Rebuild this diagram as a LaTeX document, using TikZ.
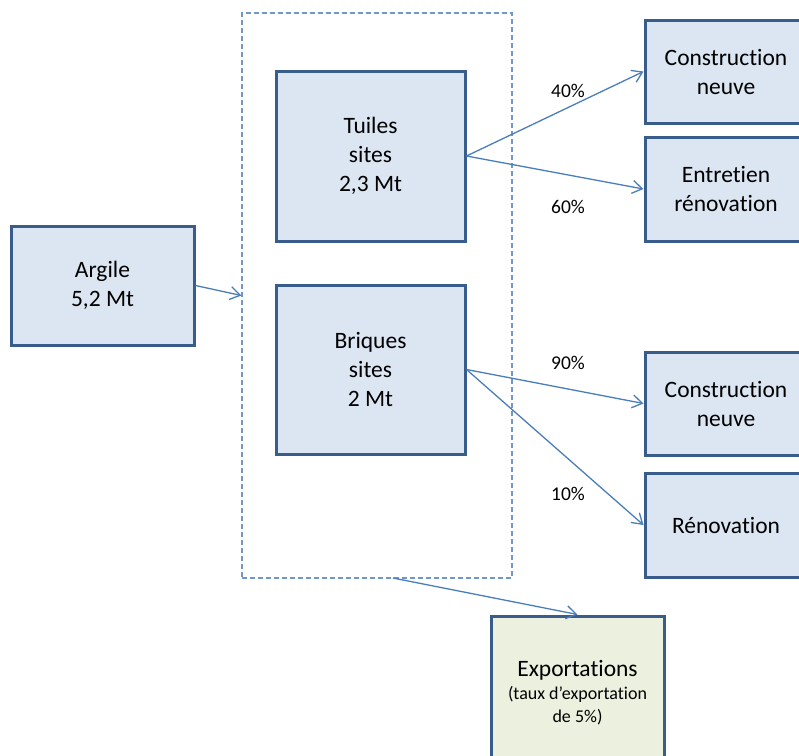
\documentclass[tikz,border=0pt]{standalone}
\usepackage{fontspec}
\setmainfont[Ligatures=NoCommon]{Carlito}
\usetikzlibrary{arrows.meta}
\definecolor{boxline}{HTML}{385D8A}
\definecolor{boxfill}{HTML}{DCE6F2}
\definecolor{exfill}{HTML}{EBF1DE}
\definecolor{flow}{HTML}{4A7EBB}
\definecolor{grpline}{HTML}{6F97CC}
\begin{document}
\begin{tikzpicture}[x=1pt,y=-1pt,
  stock/.style={draw=boxline, line width=3pt, fill=boxfill, align=center,
    font=\fontsize{23.5}{29}\selectfont, inner sep=0pt},
  flowarrow/.style={draw=flow, line width=1.3pt,
    -{Straight Barb[length=10pt,width=13pt,line width=1.3pt]}},
  pct/.style={font=\fontsize{19.5}{23}\selectfont}]
\clip (0,0) rectangle (799,755);
\fill[white] (0,0) rectangle (799,755);

% group of production sites
\node[draw=grpline, dash pattern=on 5pt off 3pt, line width=1.2pt,
  minimum width=270pt, minimum height=565pt, inner sep=0pt] (grp) at (377,295.5) {};

% stocks
\node[stock, minimum width=183pt, minimum height=119pt] (argile) at (102.5,285.5) {Argile\\5,2 Mt};
\node[stock, minimum width=189pt, minimum height=170pt] (tuiles) at (370.5,156) {Tuiles\\sites\\2,3 Mt};
\node[stock, minimum width=189pt, minimum height=169pt] (briques) at (370.5,369.5) {Briques\\sites\\2 Mt};
\node[stock, minimum width=162pt, minimum height=103pt] (cn1) at (726,71.5) {Construction\\neuve};
\node[stock, minimum width=162pt, minimum height=104pt] (entr) at (726,189) {Entretien\\rénovation};
\node[stock, minimum width=162pt, minimum height=103pt] (cn2) at (726,403.5) {Construction\\neuve};
\node[stock, minimum width=162pt, minimum height=104pt] (reno) at (726,525) {Rénovation};
\node[stock, fill=exfill, font=\fontsize{18}{23}\selectfont,
  minimum width=173pt, minimum height=154pt] (export) at (577.5,693)
  {{\fontsize{23.5}{23}\selectfont Exportations}\\(taux d’exportation\\de 5\%)};

% flows
\coordinate (exs) at (393,578);
\draw[flowarrow] (argile.east) -- (grp.west);
\draw[flowarrow] (tuiles.east) -- (cn1.west);
\draw[flowarrow] (tuiles.east) -- (entr.west);
\draw[flowarrow] (briques.east) -- (cn2.west);
\draw[flowarrow] (briques.east) -- (reno.west);
\draw[flowarrow] (exs) -- (export.north);

% shares
\node[pct] (p40) at (568,91) {40\%};
\node[pct] (p60) at (568,207) {60\%};
\node[pct] (p90) at (568,363) {90\%};
\node[pct] (p10) at (568,494) {10\%};
\end{tikzpicture}
\end{document}
